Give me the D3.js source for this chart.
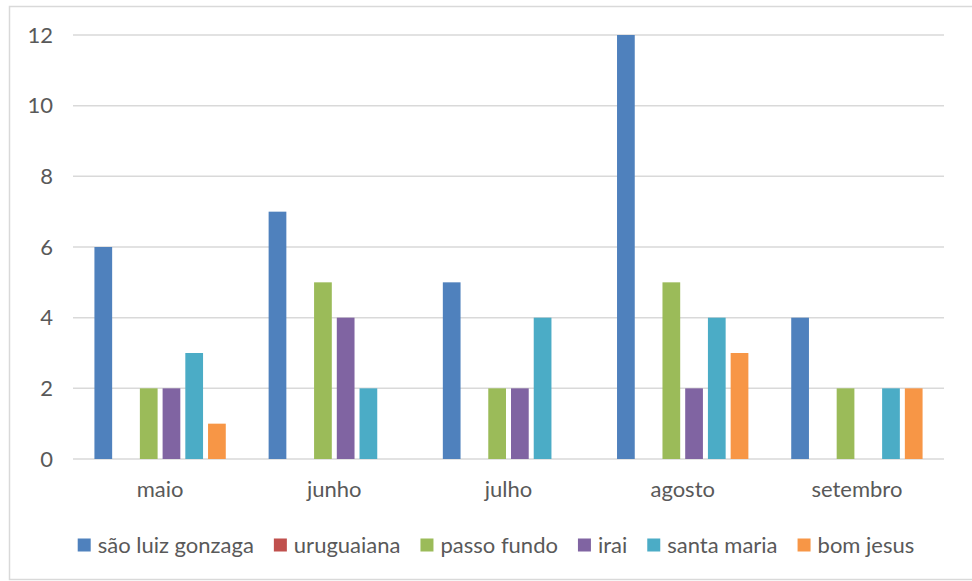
<!DOCTYPE html>
<html>
<head>
<meta charset="utf-8">
<script src="https://cdn.jsdelivr.net/npm/d3@7/dist/d3.min.js"></script>
<style>
  html, body { margin: 0; padding: 0; background: #fff; }
  svg { display: block; }
  text { font-family: Lato, "Open Sans", sans-serif; fill: #595959; }
</style>
</head>
<body>
<svg id="chart" width="972" height="581"></svg>
<script>
// Monthly counts per city
const months = ["maio", "junho", "julho", "agosto", "setembro"];
const cities = ["são luiz gonzaga", "uruguaiana", "passo fundo", "irai", "santa maria", "bom jesus"];
const saoLuizGonzaga = [6, 7, 5, 12, 4];
const uruguaiana     = [0, 0, 0, 0, 0];
const passoFundo     = [2, 5, 2, 5, 2];
const irai           = [2, 4, 2, 2, 0];
const santaMaria     = [3, 2, 4, 4, 2];
const bomJesus       = [1, 0, 0, 3, 2];
const yTicks = [0, 2, 4, 6, 8, 10, 12];
const colors = ["#4f81bd", "#c0504d", "#9bbb59", "#8064a2", "#4bacc6", "#f79646"];

const seriesValues = [saoLuizGonzaga, uruguaiana, passoFundo, irai, santaMaria, bomJesus];
const fontSize = "22px";

const svg = d3.select("#chart");

// Chart frame
svg.append("rect")
  .attr("x", 9.5).attr("y", 6.5)
  .attr("width", 980).attr("height", 573)
  .attr("fill", "#fff")
  .attr("stroke", "#d9d9d9")
  .attr("stroke-width", 1.5);

const plot = { left: 73, right: 944, top: 35, bottom: 459 };

const x = d3.scaleBand().domain(months).range([plot.left, plot.right]).paddingInner(0).paddingOuter(0);
const bw = x.bandwidth();
const xs = d3.scaleBand().domain(cities).range([bw * 0.123, bw * 0.877]).paddingInner(0.22).paddingOuter(0);

const y = d3.scaleLinear().domain([0, 12]).range([plot.bottom, plot.top]);

// Gridlines
svg.append("g")
  .selectAll("line")
  .data(yTicks)
  .join("line")
  .attr("x1", plot.left).attr("x2", plot.right)
  .attr("y1", d => y(d)).attr("y2", d => y(d))
  .attr("stroke", "#d9d9d9")
  .attr("stroke-width", 1.5);

// Y axis labels
const yAxis = d3.axisLeft(y).tickValues(yTicks).tickSize(0).tickPadding(20);
const yg = svg.append("g").attr("transform", `translate(${plot.left},0)`).call(yAxis);
yg.select(".domain").remove();
yg.selectAll("text")
  .style("font-family", "Lato, 'Open Sans', sans-serif")
  .style("font-size", fontSize)
  .attr("fill", "#595959");

// Bars
const rows = [];
months.forEach((m, i) => {
  cities.forEach((c, j) => {
    rows.push({ month: m, city: c, value: seriesValues[j][i], color: colors[j] });
  });
});

svg.append("g")
  .selectAll("rect")
  .data(rows.filter(d => d.value > 0))
  .join("rect")
  .attr("x", d => x(d.month) + xs(d.city))
  .attr("y", d => y(d.value))
  .attr("width", xs.bandwidth())
  .attr("height", d => y(0) - y(d.value))
  .attr("fill", d => d.color);

// X axis labels
const xAxis = d3.axisBottom(x).tickSize(0).tickPadding(22);
const xg = svg.append("g").attr("transform", `translate(0,${plot.bottom})`).call(xAxis);
xg.select(".domain").remove();
xg.selectAll("text")
  .style("font-family", "Lato, 'Open Sans', sans-serif")
  .style("font-size", fontSize)
  .attr("fill", "#595959");

// Legend
const legend = svg.append("g").attr("transform", "translate(0,545)");
const items = legend.selectAll("g")
  .data(cities)
  .join("g");
items.append("rect")
  .attr("width", 13).attr("height", 13)
  .attr("y", -6.5)
  .attr("fill", (d, i) => colors[i]);
items.append("text")
  .attr("x", 20)
  .attr("dy", "0.35em")
  .style("font-size", fontSize)
  .text(d => d);

// Lay out legend entries side by side, centred under the plot
const gap = 20;
const widths = [];
items.each(function () { widths.push(this.getBBox().width); });
const total = d3.sum(widths) + gap * (widths.length - 1);
let cx = 496 - total / 2;
items.attr("transform", (d, i) => {
  const t = `translate(${cx},0)`;
  cx += widths[i] + gap;
  return t;
});
</script>
</body>
</html>
